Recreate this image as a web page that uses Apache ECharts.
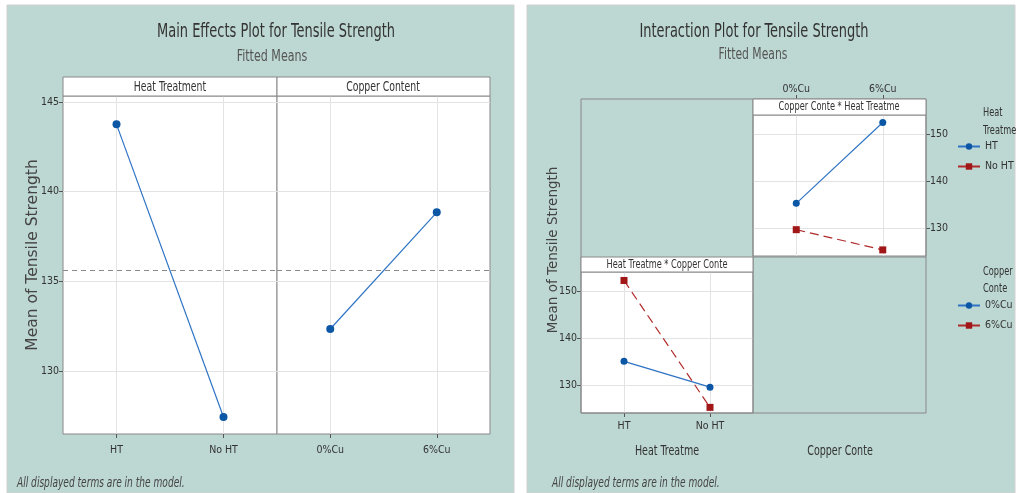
<!DOCTYPE html>
<html>
<head>
<meta charset="utf-8">
<script src="https://cdn.jsdelivr.net/npm/echarts@6/dist/echarts.min.js"></script>
<style>
html,body{margin:0;padding:0;background:#fff;}
#c{width:1017px;height:493px;}
</style>
</head>
<body>
<div id="c"></div>
<script>
// ---- data ----
const categoriesHeat = ['HT', 'No HT'];
const categoriesCopper = ['0%Cu', '6%Cu'];
const mainHeat = [143.75, 127.45];      // fitted means by heat treatment
const mainCopper = [132.35, 138.85];    // fitted means by copper content
const grandMean = [135.6];
const interHT = [135.2, 152.4];         // HT at 0%Cu, 6%Cu
const interNoHT = [129.6, 125.3];       // No HT at 0%Cu, 6%Cu
const inter0Cu = [135.0, 129.5];        // 0%Cu at HT, No HT
const inter6Cu = [152.2, 125.2];        // 6%Cu at HT, No HT
const yTicksMain = [130, 135, 140, 145];
const yTicksInter = [130, 140, 150];

// ---- styling ----
const F = "'Liberation Sans Narrow','DejaVu Sans Condensed',sans-serif";
const BLUE = '#0b57a6', BLUE_LINE = '#2f74c4';
const RED = '#a11616', RED_LINE = '#b02a2a';
const GRIDC = '#e3e3e3', FRAME = '#888888', TICKC = '#555';
const TEAL = '#bdd7d2';

function gridBox(l, t, w, h) {
  return {left: l, top: t, width: w, height: h, show: true, backgroundColor: '#fff',
          borderColor: FRAME, borderWidth: 1, containLabel: false};
}
function catAxis(gi, data, extra, margin) {
  return Object.assign({
    type: 'category', gridIndex: gi, data: data, boundaryGap: true,
    axisLine: {show: false},
    axisTick: {show: true, alignWithLabel: true, length: 4, lineStyle: {color: TICKC}},
    axisLabel: {fontFamily: F, fontSize: 10.5, color: '#333', margin: margin},
    splitLine: {show: false}
  }, extra || {});
}
function valAxis(gi, min, max, ticks, showLabels, extra) {
  return Object.assign({
    type: 'value', gridIndex: gi, min: min, max: max,
    axisLine: {show: false},
    axisTick: {show: showLabels, length: 4, lineStyle: {color: TICKC}, customValues: ticks},
    axisLabel: {show: showLabels, fontFamily: F, fontSize: 10.5, color: '#333', margin: 4, customValues: ticks},
    splitLine: {show: true, lineStyle: {color: GRIDC, width: 1}}
  }, extra || {});
}
function vGrid(cats) {
  return cats.map(c => ({xAxis: c, lineStyle: {color: GRIDC, type: 'solid', width: 1}}));
}
function txt(x, y, s, font, fill, opts, align) {
  return Object.assign({
    type: 'text', x: x, y: y, z: 100,
    style: {text: s, font: font, fill: fill, textAlign: align || 'center', textVerticalAlign: 'middle'}
  }, opts || {});
}

const option = {
  animation: false,
  backgroundColor: '#fff',
  grid: [
    gridBox(63, 96, 214, 338),
    gridBox(277, 96, 213, 338),
    gridBox(753, 115, 173, 141),
    gridBox(581, 272, 172, 141)
  ],
  xAxis: [
    catAxis(0, categoriesHeat, null, 11),
    catAxis(1, categoriesCopper, null, 11),
    catAxis(2, categoriesCopper, {position: 'top', offset: 16}, 4),
    catAxis(3, categoriesHeat, null, 8)
  ],
  yAxis: [
    valAxis(0, 126.5, 145.33, yTicksMain, true),
    valAxis(1, 126.5, 145.33, yTicksMain, false),
    valAxis(2, 124, 154, yTicksInter, true, {position: 'right'}),
    valAxis(3, 124, 154, yTicksInter, true, {position: 'left'})
  ],
  legend: [
    {data: ['HT', 'No HT'], orient: 'vertical', left: 957, top: 141, padding: 0,
     itemWidth: 22, itemHeight: 8, itemGap: 9, selectedMode: false,
     textStyle: {fontFamily: F, fontSize: 10.5, color: '#333'}},
    {data: ['0%Cu', '6%Cu'], orient: 'vertical', left: 957, top: 300, padding: 0,
     itemWidth: 22, itemHeight: 8, itemGap: 9, selectedMode: false,
     textStyle: {fontFamily: F, fontSize: 10.5, color: '#333'}}
  ],
  series: [
    {name: 'Main Heat', type: 'line', xAxisIndex: 0, yAxisIndex: 0, data: mainHeat,
     symbol: 'circle', symbolSize: 8, itemStyle: {color: BLUE}, lineStyle: {color: BLUE_LINE, width: 1.2},
     markLine: {silent: true, symbol: 'none', z: 1, label: {show: false},
       data: vGrid(categoriesHeat).concat([{yAxis: grandMean[0], lineStyle: {color: '#8a8a8a', type: [5, 4], width: 1.2}}])}},
    {name: 'Main Copper', type: 'line', xAxisIndex: 1, yAxisIndex: 1, data: mainCopper,
     symbol: 'circle', symbolSize: 8, itemStyle: {color: BLUE}, lineStyle: {color: BLUE_LINE, width: 1.2},
     markLine: {silent: true, symbol: 'none', z: 1, label: {show: false},
       data: vGrid(categoriesCopper).concat([{yAxis: grandMean[0], lineStyle: {color: '#8a8a8a', type: [5, 4], width: 1.2}}])}},
    {name: 'HT', type: 'line', xAxisIndex: 2, yAxisIndex: 2, data: interHT,
     symbol: 'circle', symbolSize: 7, itemStyle: {color: BLUE}, lineStyle: {color: BLUE_LINE, width: 1.2},
     markLine: {silent: true, symbol: 'none', z: 1, label: {show: false}, data: vGrid(categoriesCopper)}},
    {name: 'No HT', type: 'line', xAxisIndex: 2, yAxisIndex: 2, data: interNoHT,
     symbol: 'rect', symbolSize: 7, itemStyle: {color: RED}, lineStyle: {color: RED_LINE, width: 1.2, type: [9, 5]}},
    {name: '0%Cu', type: 'line', xAxisIndex: 3, yAxisIndex: 3, data: inter0Cu,
     symbol: 'circle', symbolSize: 7, itemStyle: {color: BLUE}, lineStyle: {color: BLUE_LINE, width: 1.4},
     markLine: {silent: true, symbol: 'none', z: 1, label: {show: false}, data: vGrid(categoriesHeat)}},
    {name: '6%Cu', type: 'line', xAxisIndex: 3, yAxisIndex: 3, data: inter6Cu,
     symbol: 'rect', symbolSize: 7, itemStyle: {color: RED}, lineStyle: {color: RED_LINE, width: 1.2, type: [9, 5]}}
  ],
  graphic: [
    // panel backgrounds
    {type: 'rect', z: -10, shape: {x: 7, y: 5, width: 507, height: 488}, style: {fill: TEAL, stroke: '#d0d0d0', lineWidth: 1}},
    {type: 'rect', z: -10, shape: {x: 527, y: 5, width: 488, height: 488}, style: {fill: TEAL, stroke: '#d0d0d0', lineWidth: 1}},
    // main effects strips
    {type: 'rect', z: 50, shape: {x: 63, y: 77, width: 214, height: 19}, style: {fill: '#fff', stroke: FRAME, lineWidth: 1}},
    {type: 'rect', z: 50, shape: {x: 277, y: 77, width: 213, height: 19}, style: {fill: '#fff', stroke: FRAME, lineWidth: 1}},
    txt(170, 87, 'Heat Treatment', '14px ' + F, '#333', {scaleX: 0.74}),
    txt(383, 87, 'Copper Content', '14px ' + F, '#333', {scaleX: 0.74}),
    // interaction frame and strips
    {type: 'rect', z: 50, shape: {x: 581, y: 99, width: 345, height: 314}, style: {fill: null, stroke: FRAME, lineWidth: 1}},
    {type: 'line', z: 50, shape: {x1: 753, y1: 99, x2: 753, y2: 413}, style: {stroke: FRAME, lineWidth: 1}},
    {type: 'rect', z: 50, shape: {x: 753, y: 99, width: 173, height: 16}, style: {fill: '#fff', stroke: FRAME, lineWidth: 1}},
    {type: 'rect', z: 50, shape: {x: 581, y: 257, width: 172, height: 15}, style: {fill: '#fff', stroke: FRAME, lineWidth: 1}},
    {type: 'line', z: 50, shape: {x1: 753, y1: 257, x2: 926, y2: 257}, style: {stroke: FRAME, lineWidth: 1}},
    txt(839, 107, 'Copper Conte * Heat Treatme', '12px ' + F, '#333', {scaleX: 0.76}),
    txt(667, 264.5, 'Heat Treatme * Copper Conte', '12px ' + F, '#333', {scaleX: 0.76}),
    // titles
    txt(276, 32, 'Main Effects Plot for Tensile Strength', '19px ' + F, '#333', {scaleX: 0.76}),
    txt(272, 57, 'Fitted Means', '16px ' + F, '#555', {scaleX: 0.77}),
    txt(754, 32, 'Interaction Plot for Tensile Strength', '19px ' + F, '#333', {scaleX: 0.76}),
    txt(753, 55, 'Fitted Means', '16px ' + F, '#555', {scaleX: 0.75}),
    // y axis titles
    txt(33, 255, 'Mean of Tensile Strength', '15.5px "DejaVu Sans", sans-serif', '#444', {rotation: Math.PI / 2}),
    txt(553, 250, 'Mean of Tensile Strength', '13.5px "DejaVu Sans", sans-serif', '#444', {rotation: Math.PI / 2}),
    // interaction axis names
    txt(667, 451, 'Heat Treatme', '14.5px ' + F, '#333', {scaleX: 0.73}),
    txt(840, 451, 'Copper Conte', '14.5px ' + F, '#333', {scaleX: 0.73}),
    // legend titles
    txt(983, 113, 'Heat', '12px ' + F, '#333', {scaleX: 0.76}, 'left'),
    txt(983, 131, 'Treatme', '12px ' + F, '#333', {scaleX: 0.76}, 'left'),
    txt(983, 272, 'Copper', '12px ' + F, '#333', {scaleX: 0.76}, 'left'),
    txt(983, 289, 'Conte', '12px ' + F, '#333', {scaleX: 0.76}, 'left'),
    // footers
    txt(17, 483, 'All displayed terms are in the model.', 'italic 14px ' + F, '#444', {scaleX: 0.72}, 'left'),
    txt(552, 483, 'All displayed terms are in the model.', 'italic 14px ' + F, '#444', {scaleX: 0.72}, 'left')
  ]
};

const chart = echarts.init(document.getElementById('c'), null, {renderer: 'canvas'});
chart.setOption(option);
</script>
</body>
</html>
